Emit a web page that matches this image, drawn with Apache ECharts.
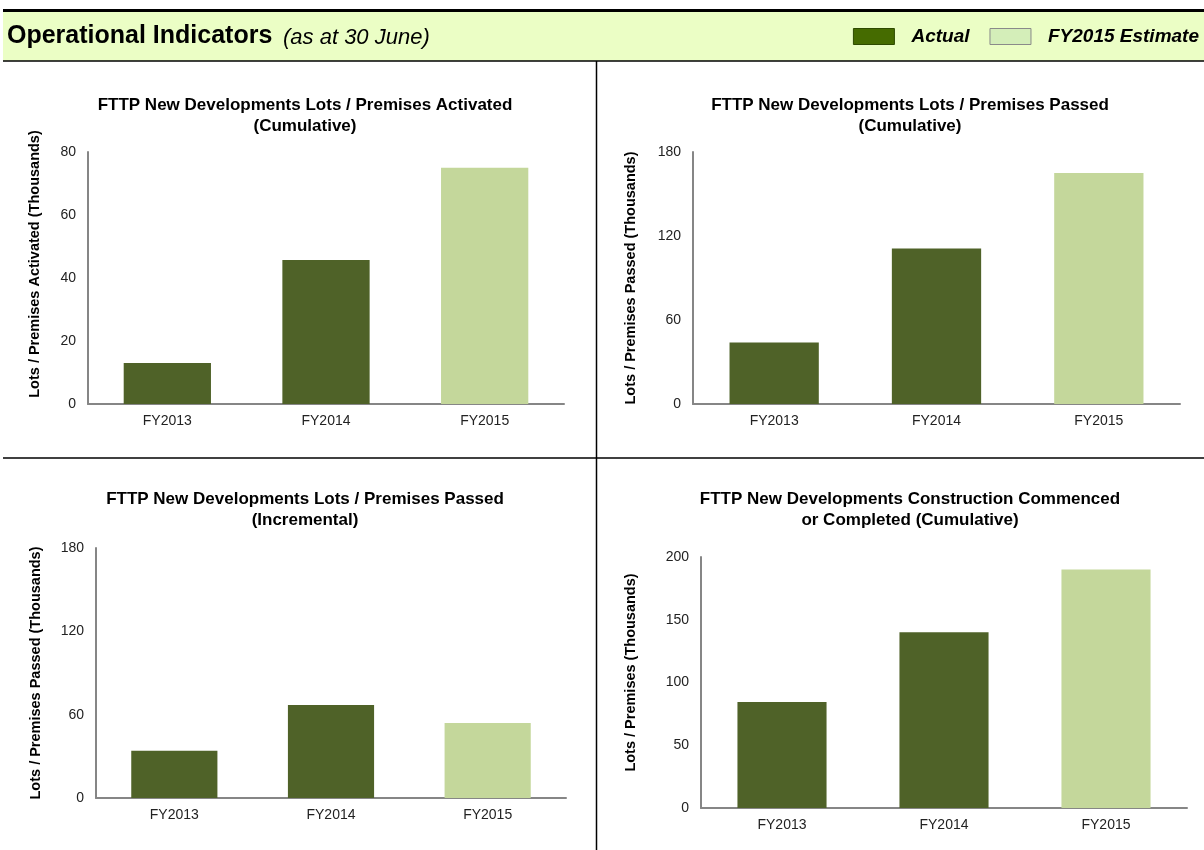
<!DOCTYPE html>
<html>
<head>
<meta charset="utf-8">
<script src="https://cdn.jsdelivr.net/npm/echarts@6/dist/echarts.min.js"></script>
<style>
  html, body { margin: 0; padding: 0; background: #fff; }
  #chart { width: 1204px; height: 850px; }
</style>
</head>
<body>
<div id="chart"></div>
<script>
// Financial years shown on every panel
const categories = ['FY2013', 'FY2014', 'FY2015'];

// Values in thousands; FY2015 is the estimate
const activatedCumulative = [13, 45.7, 75];
const passedCumulative = [44, 111, 165];
const passedIncremental = [34, 67, 54];
const constructionCumulative = [84.5, 140, 190];

const ACTUAL = 'Actual';
const ESTIMATE = 'FY2015 Estimate';
const DARK = '#4f6228';
const LIGHT = '#c4d79b';
const FONT = 'Liberation Sans, Arial, sans-serif';

const panels = [
  { title: 'FTTP New Developments Lots / Premises Activated\n(Cumulative)',
    yName: 'Lots / Premises Activated (Thousands)', values: activatedCumulative,
    max: 80, interval: 20, grid: { left: 88, top: 152, width: 476, height: 252 },
    titlePos: { x: 300, y: 90 }, nameGap: 46, nameShift: 28 },
  { title: 'FTTP New Developments Lots / Premises Passed\n(Cumulative)',
    yName: 'Lots / Premises Passed (Thousands)', values: passedCumulative,
    max: 180, interval: 60, grid: { left: 693, top: 152, width: 487, height: 252 },
    titlePos: { x: 905, y: 90 }, nameGap: 55, nameShift: 0 },
  { title: 'FTTP New Developments Lots / Premises Passed\n(Incremental)',
    yName: 'Lots / Premises Passed (Thousands)', values: passedIncremental,
    max: 180, interval: 60, grid: { left: 96, top: 548, width: 470, height: 250 },
    titlePos: { x: 300, y: 484 }, nameGap: 53, nameShift: 0 },
  { title: 'FTTP New Developments Construction Commenced\nor Completed (Cumulative)',
    yName: 'Lots / Premises (Thousands)', values: constructionCumulative,
    max: 200, interval: 50, grid: { left: 701, top: 557, width: 486, height: 251 },
    titlePos: { x: 905, y: 484 }, nameGap: 63, nameShift: 20 }
];

const grids = [], xAxes = [], yAxes = [], series = [], titles = [];

panels.forEach((p, i) => {
  grids.push(Object.assign({ containLabel: false }, p.grid));
  titles.push({
    text: p.title, left: p.titlePos.x, top: p.titlePos.y, textAlign: 'center',
    textStyle: { fontFamily: FONT, fontSize: 17, fontWeight: 'bold', color: '#000', lineHeight: 21 }
  });
  xAxes.push({
    type: 'category', gridIndex: i, data: categories,
    axisLine: { lineStyle: { color: '#868686', width: 2 } },
    axisTick: { show: false },
    axisLabel: { fontFamily: FONT, fontSize: 14, color: '#222', margin: 10 }
  });
  yAxes.push({
    type: 'value', gridIndex: i, min: 0, max: p.max, interval: p.interval,
    name: p.yName, nameLocation: 'middle', nameGap: p.nameGap, nameRotate: 90,
    nameTextStyle: { fontFamily: FONT, fontSize: 14.5, fontWeight: 'bold', color: '#000',
                     padding: [0, 0, 0, p.nameShift] },
    axisLine: { show: true, lineStyle: { color: '#868686', width: 2 } },
    axisTick: { show: false },
    splitLine: { show: false },
    axisLabel: { fontFamily: FONT, fontSize: 14, color: '#222', margin: 12 }
  });
  const stack = 'panel' + i;
  series.push({
    name: ACTUAL, type: 'bar', xAxisIndex: i, yAxisIndex: i, stack,
    barWidth: '55%', itemStyle: { color: DARK },
    data: p.values.map((v, k) => (k < 2 ? v : '-'))
  });
  series.push({
    name: ESTIMATE, type: 'bar', xAxisIndex: i, yAxisIndex: i, stack,
    barWidth: '55%', itemStyle: { color: LIGHT },
    data: p.values.map((v, k) => (k === 2 ? v : '-'))
  });
});

const chart = echarts.init(document.getElementById('chart'), null, { renderer: 'canvas' });
chart.setOption({
  animation: false,
  backgroundColor: '#ffffff',
  title: titles,
  legend: {
    data: [
      { name: ACTUAL, itemStyle: { color: '#456b00', borderColor: '#2e4a00', borderWidth: 1 } },
      { name: ESTIMATE, itemStyle: { color: '#d4eeb9', borderColor: '#8a8a8a', borderWidth: 1 } }
    ],
    right: 5, top: 25, padding: [2, 0, 2, 0], itemWidth: 41, itemHeight: 16, itemGap: 20,
    icon: 'rect', selectedMode: false,
    textStyle: { fontFamily: FONT, fontSize: 19, fontWeight: 'bold', fontStyle: 'italic', color: '#000', padding: [0, 0, 0, 12] }
  },
  graphic: [
    // header band
    { type: 'rect', z: -1, shape: { x: 3, y: 12, width: 1201, height: 49 }, style: { fill: '#ebfec5' } },
    { type: 'rect', shape: { x: 3, y: 9, width: 1201, height: 3 }, style: { fill: '#000' } },
    { type: 'line', shape: { x1: 3, y1: 61, x2: 1204, y2: 61 }, style: { stroke: '#000', lineWidth: 1.5 } },
    { type: 'text', left: 7, top: 24,
      style: { text: 'Operational Indicators', fontFamily: FONT, fontSize: 25, fontWeight: 'bold', fill: '#000' } },
    { type: 'text', left: 283, top: 27,
      style: { text: '(as at 30 June)', fontFamily: FONT, fontSize: 22, fontStyle: 'italic', fill: '#000' } },
    // panel dividers
    { type: 'line', shape: { x1: 596.5, y1: 61, x2: 596.5, y2: 850 }, style: { stroke: '#000', lineWidth: 1.5 } },
    { type: 'line', shape: { x1: 3, y1: 458, x2: 1204, y2: 458 }, style: { stroke: '#000', lineWidth: 1.5 } }
  ],
  grid: grids,
  xAxis: xAxes,
  yAxis: yAxes,
  series: series
});
</script>
</body>
</html>
